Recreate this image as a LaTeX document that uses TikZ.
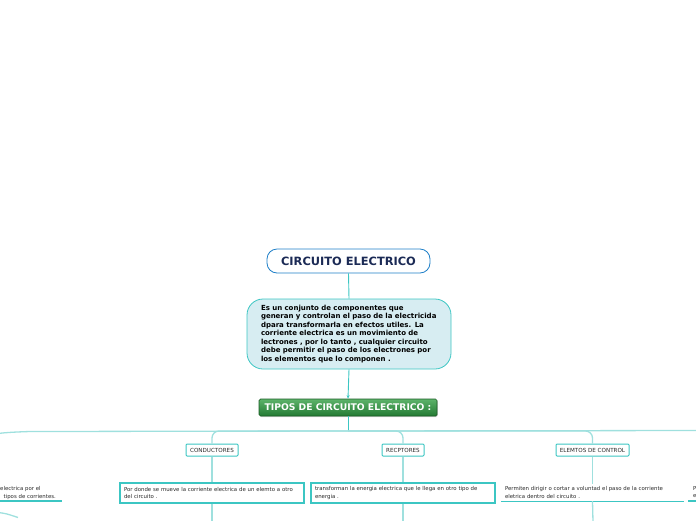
\documentclass[tikz,border=0pt]{standalone}
\usepackage{fontspec}
\setmainfont{DejaVu Sans}
\usetikzlibrary{shadows,arrows.meta}
\definecolor{tealdark}{HTML}{3CC6C3}
\definecolor{teallight}{HTML}{9FE0DE}
\definecolor{titleblue}{HTML}{1E7FC8}
\definecolor{navy}{HTML}{1B2A55}
\definecolor{descfill}{HTML}{D7EDF2}
\definecolor{greentop}{HTML}{5DB36A}
\definecolor{greenbot}{HTML}{237A33}
\definecolor{greenborder}{HTML}{1D5E27}
\definecolor{txtgray}{HTML}{2A2A2A}
\begin{document}
\begin{tikzpicture}[x=1pt,y=-1pt,
  titlebox/.style={draw=titleblue, line width=0.8pt, fill=white, rounded corners=10pt,
    minimum width=163pt, minimum height=24pt, inner sep=0pt,
    font=\fontsize{11.4}{13}\selectfont\bfseries, text=navy},
  descbox/.style={draw=tealdark, line width=0.8pt, fill=descfill, rounded corners=16pt,
    minimum width=204pt, minimum height=70pt, inner sep=0pt, text width=176pt, align=left,
    font=\fontsize{7}{8.5}\selectfont\bfseries, text=black},
  tiposbox/.style={draw=greenborder, line width=0.7pt, top color=greentop, bottom color=greenbot,
    rounded corners=1.5pt, minimum width=178pt, minimum height=17pt, inner sep=0pt,
    font=\fontsize{9.2}{10}\selectfont\bfseries, text=white, drop shadow={opacity=0.35, shadow xshift=0.8pt, shadow yshift=-1pt}},
  childbox/.style={draw=tealdark, line width=1pt, fill=white, rounded corners=1pt,
    minimum height=12pt, inner sep=0pt, font=\fontsize{5.6}{6}\selectfont, text=txtgray},
  leafbox/.style={draw=tealdark, line width=1.3pt, fill=white, minimum width=184pt, minimum height=20pt,
    inner sep=0pt, text width=176pt, align=left, font=\fontsize{5.4}{7.2}\selectfont, text=txtgray},
  leafplain/.style={minimum width=183pt, minimum height=17pt, inner sep=0pt, text width=175pt,
    align=left, font=\fontsize{5.4}{7.2}\selectfont, text=txtgray},
  partial/.style={inner sep=0pt, align=left, font=\fontsize{5.4}{7.2}\selectfont, text=txtgray},
  underline/.style={draw=tealdark, line width=1.3pt},
  conn/.style={draw=tealdark, line width=0.9pt},
  trunk/.style={draw=teallight, line width=1.3pt},
]
\useasboundingbox (0,0) rectangle (696,520);
\clip (0,0) rectangle (696,520);

% main nodes
\node[titlebox] (title) at (348.5,261) {CIRCUITO ELECTRICO};
\node[descbox] (desc) at (349,334) {Es un conjunto de componentes que\\generan y controlan el paso de la electricida\\dpara transformarla en efectos utiles. La\\corriente electrica es un movimiento de\\lectrones , por lo tanto , cualquier circuito\\debe permitir el paso de los electrones por\\los elementos que lo componen .};
\node[tiposbox] (tipos) at (348,407.5) {TIPOS DE CIRCUITO ELECTRICO :};

\draw[conn] (title.south) -- (desc.north);
\draw[conn, -{Stealth[length=3.5pt,width=3pt]}] (desc.south) -- (tipos.north);

% children
\node[childbox, minimum width=52pt] (cond) at (212,450) {CONDUCTORES};
\node[childbox, minimum width=42pt] (recp) at (403,450) {RECPTORES};
\node[childbox, minimum width=73pt] (elem) at (592.5,450) {ELEMTOS DE CONTROL};

% leaves
\node[leafbox] (conddesc) at (212,493) {Por donde se mueve la corriente electrica de un elemto a otro\\del circuito .};
\node[leafbox] (recpdesc) at (403,493) {transforman la energia electrica que le llega en otro tipo de\\energia .};
\node[leafplain] (elemdesc) at (592.5,492.5) {Permiten dirigir o cortar a voluntad el paso de la corriente\\eletrica dentro del circuito .};
\draw[underline] (elemdesc.south west) -- (elemdesc.south east);

% partial nodes at the edges
\node[partial, anchor=north west] (leftdesc) at (0,486.5) {electrica por el\\\hspace*{3.5pt}tipos de corrientes.};
\draw[underline] (0,501) -- (62,501);
\node[partial, anchor=north west] (rightdesc) at (693,486.5) {P\\e};
\draw[underline] (688,501) -- (700,501);

% trunk
\coordinate (hub) at (348,431);
\draw[conn] (tipos.south) -- (hub);
\draw[trunk] (hub) -- (30,431.5) .. controls (15,432) and (6,432.5) .. (-2,433.5);
\draw[trunk] (hub) -- (700,430.5);
\draw[trunk, rounded corners=7pt] (hub) -| (cond.north);
\draw[trunk, rounded corners=7pt] (hub) -| (recp.north);
\draw[trunk, rounded corners=7pt] (hub) -| (elem.north);

% child to leaf
\draw[trunk] (cond.south) -- (conddesc.north);
\draw[trunk] (recp.south) -- (recpdesc.north);
\draw[trunk] (elem.south) -- (elemdesc.north);

% below leaves
\coordinate (c1) at (212,522);
\coordinate (c2) at (403,522);
\coordinate (c3) at (593,522);
\draw[trunk] (conddesc.south) -- (c1);
\draw[trunk] (recpdesc.south) -- (c2);
\draw[trunk] (elemdesc.south) -- (c3);
\coordinate (l1) at (-2,512.5);
\coordinate (l2) at (18,517.5);
\draw[trunk] (l1) .. controls (6,513.5) .. (l2);
\end{tikzpicture}
\end{document}
